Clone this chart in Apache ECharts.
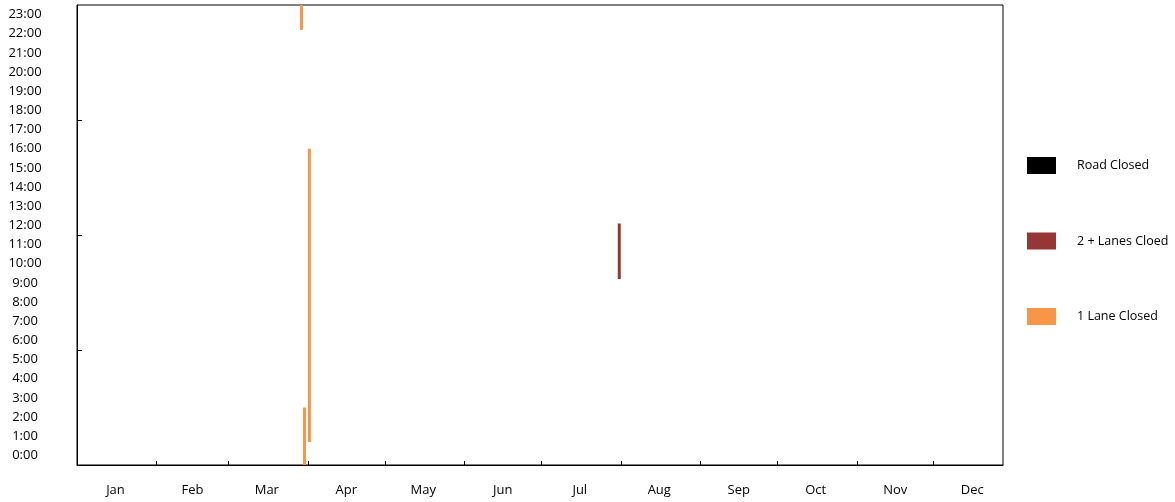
<!DOCTYPE html>
<html>
<head>
<meta charset="utf-8">
<script src="https://cdn.jsdelivr.net/npm/echarts@6/dist/echarts.min.js"></script>
<style>
  html, body { margin: 0; padding: 0; background: #fff; }
  #myChart { width: 1175px; height: 502px; }
</style>
</head>
<body>
<div id="myChart"></div>
<script>
var months = ['Jan', 'Feb', 'Mar', 'Apr', 'May', 'Jun', 'Jul', 'Aug', 'Sep', 'Oct', 'Nov', 'Dec'];
// day of year where each month starts (tick marks) and where its label sits
var monthStartDays = [32, 60, 91, 121, 152, 182, 213, 244, 274, 305, 335];
var monthLabelDays = [16, 46, 75, 106, 136, 167, 197, 228, 259, 289, 320, 350];
var hourTicks = [5.5, 11.5, 17.5];
var hourLabels = [0, 1, 2, 3, 4, 5, 6, 7, 8, 9, 10, 11, 12, 13, 14, 15, 16, 17, 18, 19, 20, 21, 22, 23];

// [day of year, start hour, end hour]
var roadClosed = [];
var twoLanesClosed = [[212.4, 9.2, 12.1]];
var oneLaneClosed = [[88.5, 22.2, 23.5], [89.7, -0.5, 2.5], [91.6, 0.7, 16.0]];

var myChart = echarts.init(document.getElementById('myChart'));

function renderItem(params, api) {
    var x = api.value(0);
    var p0 = api.coord([x, api.value(1)]);
    var p1 = api.coord([x, api.value(2)]);
    return {
        type: 'rect',
        shape: { x: p0[0] - 1.5, y: p1[1], width: 3, height: p0[1] - p1[1] },
        style: api.style()
    };
}

var labelFont = { color: '#000', fontSize: 13, fontFamily: 'Open Sans' };

var option = {
    animation: false,
    grid: {
        left: 77, right: 172, top: 5, bottom: 37,
        show: true, borderColor: '#000', borderWidth: 1
    },
    legend: {
        orient: 'vertical',
        left: 1027,
        top: 157,
        padding: 0,
        itemWidth: 29,
        itemHeight: 17,
        itemGap: 58.5,
        icon: 'rect',
        textStyle: { color: '#000', fontSize: 12.5, fontFamily: 'Open Sans', padding: [0, 0, 0, 16] },
        data: ['Road Closed', '2 + Lanes Cloed', '1 Lane Closed']
    },
    xAxis: {
        type: 'value',
        min: 1,
        max: 362,
        splitLine: { show: false },
        axisLine: { onZero: false, lineStyle: { color: '#000', width: 1 } },
        axisTick: { inside: true, length: 4, lineStyle: { color: '#000' }, customValues: monthStartDays },
        axisLabel: Object.assign({
            margin: 19,
            customValues: monthLabelDays,
            formatter: function (v) { return months[monthLabelDays.indexOf(v)]; }
        }, labelFont)
    },
    yAxis: {
        type: 'value',
        min: -0.5,
        max: 23.5,
        splitLine: { show: false },
        axisLine: { show: true, onZero: false, lineStyle: { color: '#000', width: 1 } },
        axisTick: { inside: true, length: 5, lineStyle: { color: '#000' }, customValues: hourTicks },
        axisLabel: Object.assign({
            margin: 52,
            align: 'center',
            customValues: hourLabels,
            formatter: function (v) { return v + ':00'; }
        }, labelFont)
    },
    series: [
        {
            name: 'Road Closed',
            type: 'custom',
            renderItem: renderItem,
            itemStyle: { color: '#000000' },
            encode: { x: 0, y: [1, 2] },
            data: roadClosed
        },
        {
            name: '2 + Lanes Cloed',
            type: 'custom',
            renderItem: renderItem,
            itemStyle: { color: '#953735' },
            encode: { x: 0, y: [1, 2] },
            data: twoLanesClosed
        },
        {
            name: '1 Lane Closed',
            type: 'custom',
            renderItem: renderItem,
            itemStyle: { color: '#F79646' },
            encode: { x: 0, y: [1, 2] },
            data: oneLaneClosed
        }
    ]
};

myChart.setOption(option);
</script>
</body>
</html>
